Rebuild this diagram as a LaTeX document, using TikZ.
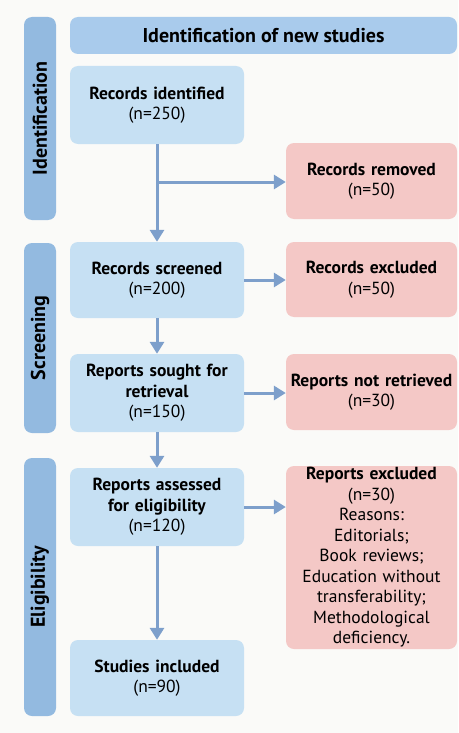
\documentclass[tikz,border=0pt]{standalone}
\usepackage{fontspec}
\setmainfont{PT Sans}
\usetikzlibrary{arrows.meta}
\definecolor{paper}{HTML}{FAFAF8}
\definecolor{boxblue}{HTML}{C6E0F3}
\definecolor{barblue}{HTML}{93BAE0}
\definecolor{headblue}{HTML}{A9CBEC}
\definecolor{boxpink}{HTML}{F4C8C6}
\definecolor{arrowblue}{HTML}{7D9FCB}

\begin{document}
\begin{tikzpicture}[x=1pt,y=-1pt,>={Triangle[length=12pt,width=14pt]},
study/.style={rectangle, rounded corners=8pt, fill=boxblue, align=center, inner sep=0pt, text width=170pt, minimum width=174pt, font=\fontsize{17.5}{20.5}\selectfont},
excl/.style={rectangle, rounded corners=8pt, fill=boxpink, align=center, inner sep=0pt, text width=168pt, minimum width=171pt, font=\fontsize{17.5}{20.5}\selectfont},
phase/.style={rectangle, rounded corners=8pt, fill=barblue, rotate=90, minimum height=32pt, inner sep=0pt, font=\fontsize{20}{22}\selectfont\bfseries},
head/.style={rectangle, rounded corners=8pt, fill=headblue, minimum width=387pt, minimum height=37pt, font=\fontsize{20}{22}\selectfont\bfseries},
flow/.style={->, draw=arrowblue, line width=3pt}]

\fill[paper] (0,0) rectangle (458,733);
\useasboundingbox (0,0) rectangle (458,733);

\draw (263.5,35.5) node[head] (H) {Identification of new studies};
\draw (40,118.5) node[phase, minimum width=203pt] (P1) {Identification};
\draw (40,338) node[phase, minimum width=190pt] (P2) {Screening};
\draw (40,587) node[phase, minimum width=258pt] (P3) {Eligibility};

\draw (157,105) node[study, minimum height=78pt] (RI) {\textbf{Records identified}\\(n=250)};
\draw (157,280) node[study, minimum height=76pt] (RS) {\textbf{Records screened}\\(n=200)};
\draw (157,393) node[study, minimum height=78pt] (RSR) {\textbf{Reports sought for}\\\textbf{retrieval}\\(n=150)};
\draw (157,507) node[study, minimum height=78pt] (RA) {\textbf{Reports assessed}\\\textbf{for eligibility}\\(n=120)};
\draw (157,678) node[study, minimum height=76pt] (SI) {\textbf{Studies included}\\(n=90)};

\draw (371.5,181) node[excl, minimum height=76pt] (RR) {\textbf{Records removed}\\(n=50)};
\draw (371.5,279.5) node[excl, minimum height=75pt] (RE) {\textbf{Records excluded}\\(n=50)};
\draw (371.5,392) node[excl, minimum height=76pt] (RNR) {\textbf{Reports not retrieved}\\(n=30)};
\draw (371.5,557.5) node[excl, minimum height=183pt] (RX) {\textbf{Reports excluded}\\(n=30)\\Reasons:\\Editorials;\\Book reviews;\\Education without\\transferability;\\Methodological\\deficiency.};

\coordinate (B1) at (157,182);

\draw[flow] (RI) -- (RS);
\draw[flow] (B1) -- (B1 -| RR.west);
\draw[flow] (RS) -- (RSR);
\draw[flow] (RSR) -- (RA);
\draw[flow] (RA) -- (SI);
\draw[flow] (RS.east) -- (RS.east -| RE.west);
\draw[flow] (RSR.east) -- (RSR.east -| RNR.west);
\draw[flow] (RA.east) -- (RA.east -| RX.west);
\end{tikzpicture}
\end{document}
